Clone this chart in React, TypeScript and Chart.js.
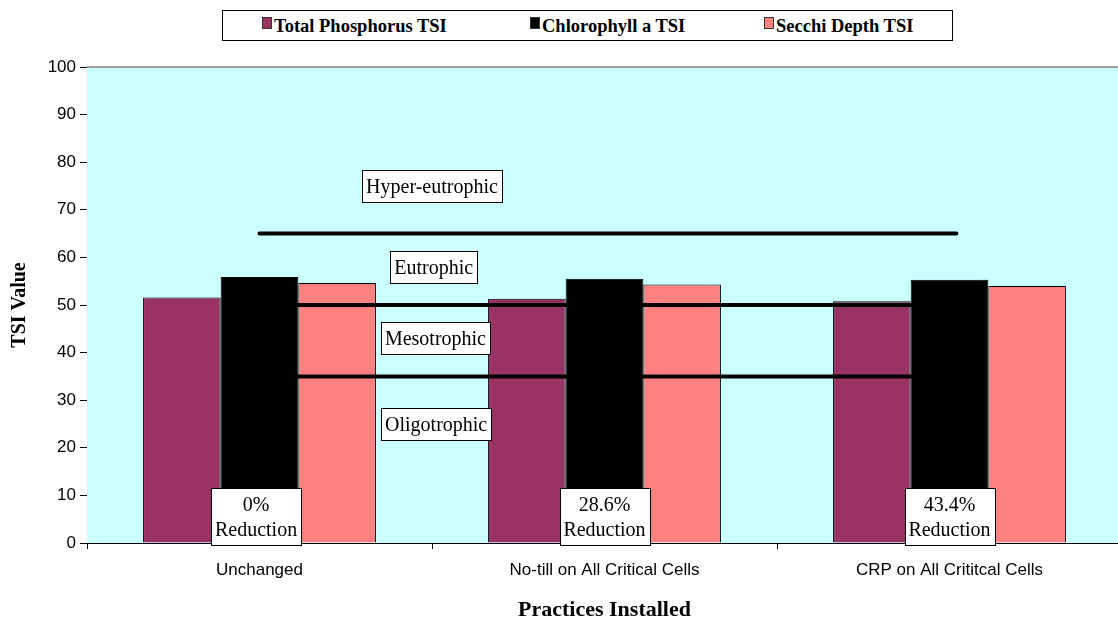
import React, { useEffect, useRef } from 'react';
import { Chart, registerables } from 'chart.js';

Chart.register(...registerables);

// ---- data ----
const categories = ['Unchanged', 'No-till on All Critical Cells', 'CRP on All Crititcal Cells'];
const seriesNames = ['Total Phosphorus TSI', 'Chlorophyll a TSI', 'Secchi Depth TSI'];
const totalPhosphorusTSI = [51.6, 51.3, 50.8];
const chlorophyllTSI = [55.9, 55.5, 55.3];
const secchiDepthTSI = [54.6, 54.3, 54.0];
const seriesColors = ['#993366', '#000000', '#FF8080'];

// trophic-state boundaries (TSI) drawn as thick horizontal rules
const trophicBoundaries = [65, 50, 35];
const boundaryFrom = 0; // category index where rules start
const boundaryTo = 2.02; // category index where rules end

const zoneNames = ['Hyper-eutrophic', 'Eutrophic', 'Mesotrophic', 'Oligotrophic'];
const zoneLabelX = [0.5, 0.505, 0.51, 0.512];
const zoneLabelY = [75, 57.9, 43.1, 25];

const reductionLabels = ['0%', '28.6%', '43.4%'];
const reductionLabelX = [-0.01, 0, 0];
const reductionLabelY = 5.6;

const yTicks = [0, 10, 20, 30, 40, 50, 60, 70, 80, 90, 100];

const SERIF = '"Liberation Serif", "Times New Roman", serif';
const SANS = '"Liberation Sans", Arial, sans-serif';

function drawBox(ctx: CanvasRenderingContext2D, cx: number, cy: number, lines: string[]) {
  ctx.save();
  ctx.font = `20px ${SERIF}`;
  const lineH = 25;
  const padH = 4;
  const padV = 3.5;
  let w = 0;
  lines.forEach((l) => (w = Math.max(w, ctx.measureText(l).width)));
  const bw = Math.round(w + padH * 2);
  const bh = Math.round(lines.length * lineH + padV * 2);
  const x = Math.round(cx - bw / 2) + 0.5;
  const y = Math.round(cy - bh / 2) + 0.5;
  ctx.fillStyle = '#FFFFFF';
  ctx.fillRect(x, y, bw, bh);
  ctx.strokeStyle = '#000000';
  ctx.lineWidth = 1;
  ctx.strokeRect(x, y, bw, bh);
  ctx.fillStyle = '#000000';
  ctx.textAlign = 'center';
  ctx.textBaseline = 'middle';
  lines.forEach((l, i) => {
    ctx.fillText(l, cx, y + padV + lineH * i + lineH / 2 + 1);
  });
  ctx.restore();
}

const catPixel = (xs: any, idx: number) => xs.getPixelForDecimal((idx + 0.5) / categories.length);

const plotDecor = {
  id: 'plotDecor',
  beforeDatasetsDraw(chart: any) {
    const { ctx, chartArea } = chart;
    ctx.save();
    ctx.fillStyle = '#CCFFFF';
    ctx.fillRect(chartArea.left, chartArea.top, chartArea.right - chartArea.left, chartArea.bottom - chartArea.top);
    ctx.strokeStyle = '#808080';
    ctx.lineWidth = 1.5;
    ctx.beginPath();
    ctx.moveTo(chartArea.left, chartArea.top);
    ctx.lineTo(chartArea.right, chartArea.top);
    ctx.stroke();
    ctx.restore();
  },
  afterDatasetsDraw(chart: any) {
    const { ctx } = chart;
    const xs = chart.scales.x;
    const ys = chart.scales.y;
    // boundary rules
    ctx.save();
    ctx.strokeStyle = '#000000';
    ctx.lineWidth = 4;
    ctx.lineCap = 'round';
    trophicBoundaries.forEach((v) => {
      const py = ys.getPixelForValue(v);
      ctx.beginPath();
      ctx.moveTo(catPixel(xs, boundaryFrom), py);
      ctx.lineTo(catPixel(xs, boundaryTo), py);
      ctx.stroke();
    });
    ctx.restore();
    zoneNames.forEach((name, i) => {
      drawBox(ctx, catPixel(xs, zoneLabelX[i]), ys.getPixelForValue(zoneLabelY[i]), [name]);
    });
    reductionLabels.forEach((lab, i) => {
      drawBox(ctx, catPixel(xs, i + reductionLabelX[i]), ys.getPixelForValue(reductionLabelY), [lab, 'Reduction']);
    });
  },
};

export default function App() {
  const canvasRef = useRef<HTMLCanvasElement | null>(null);

  useEffect(() => {
    if (!canvasRef.current) return;
    const barDatasets = [totalPhosphorusTSI, chlorophyllTSI, secchiDepthTSI].map((d, i) => ({
      label: seriesNames[i],
      data: d,
      backgroundColor: seriesColors[i],
      borderColor: '#000000',
      borderWidth: 1,
      categoryPercentage: 0.675,
      barPercentage: 1,
    }));

    const chart = new Chart(canvasRef.current, {
      type: 'bar',
      data: { labels: categories, datasets: barDatasets },
      options: {
        animation: false,
        responsive: false,
        maintainAspectRatio: false,
        layout: { padding: { top: 67, right: 2, bottom: 0, left: 0 } },
        plugins: { legend: { display: false }, tooltip: { enabled: false } },
        scales: {
          x: {
            type: 'category',
            offset: true,
            grid: { display: true, offset: true, drawOnChartArea: false, drawTicks: true, tickLength: 6, color: '#000000' },
            border: { display: true, color: '#000000', width: 1 },
            ticks: { color: '#000000', font: { family: SANS, size: 17 }, padding: 11, maxRotation: 0, autoSkip: false },
            title: {
              display: true,
              text: 'Practices Installed',
              color: '#000000',
              font: { family: SERIF, size: 22, weight: 'bold' },
              padding: { top: 0, bottom: 0 },
            },
            afterFit: (s: any) => {
              s.height = 81;
            },
          },
          y: {
            type: 'linear',
            min: 0,
            max: 100,
            afterBuildTicks: (s: any) => {
              s.ticks = yTicks.map((v) => ({ value: v }));
            },
            grid: { display: true, drawOnChartArea: false, drawTicks: true, tickLength: 7, color: '#000000' },
            border: { display: true, color: '#000000', width: 1 },
            ticks: { color: '#000000', font: { family: SANS, size: 17 }, padding: 4 },
            title: {
              display: true,
              text: 'TSI Value',
              color: '#000000',
              font: { family: SERIF, size: 20, weight: 'bold' },
              padding: { top: 8, bottom: 0 },
            },
            afterFit: (s: any) => {
              s.width = 87;
            },
          },
        },
      } as any,
      plugins: [plotDecor],
    });
    return () => chart.destroy();
  }, []);

  const legendItems = [
    { swatch: 39, text: 51 },
    { swatch: 307, text: 319 },
    { swatch: 541, text: 553 },
  ];

  return (
    <div
      style={{
        position: 'fixed',
        left: 0,
        top: 0,
        width: 1118,
        height: 624,
        overflow: 'hidden',
        background: '#FFFFFF',
      }}
    >
      <canvas ref={canvasRef} width={1124} height={624} style={{ position: 'absolute', left: 0, top: 0, width: 1124, height: 624 }} />
      <div
        style={{
          position: 'absolute',
          left: 222,
          top: 10,
          width: 731,
          height: 31,
          border: '1px solid #000000',
          boxSizing: 'border-box',
          background: '#FFFFFF',
        }}
      >
        {seriesNames.map((name, i) => (
          <React.Fragment key={name}>
            <div
              style={{
                position: 'absolute',
                left: legendItems[i].swatch,
                top: 6,
                width: 10,
                height: 12,
                boxSizing: 'border-box',
                border: '1px solid #333333',
                background: seriesColors[i],
              }}
            />
            <div
              style={{
                position: 'absolute',
                left: legendItems[i].text,
                top: 6,
                fontFamily: SERIF,
                fontWeight: 'bold',
                fontSize: 18.5,
                lineHeight: '18px',
                whiteSpace: 'nowrap',
                color: '#000000',
              }}
            >
              {name}
            </div>
          </React.Fragment>
        ))}
      </div>
    </div>
  );
}
